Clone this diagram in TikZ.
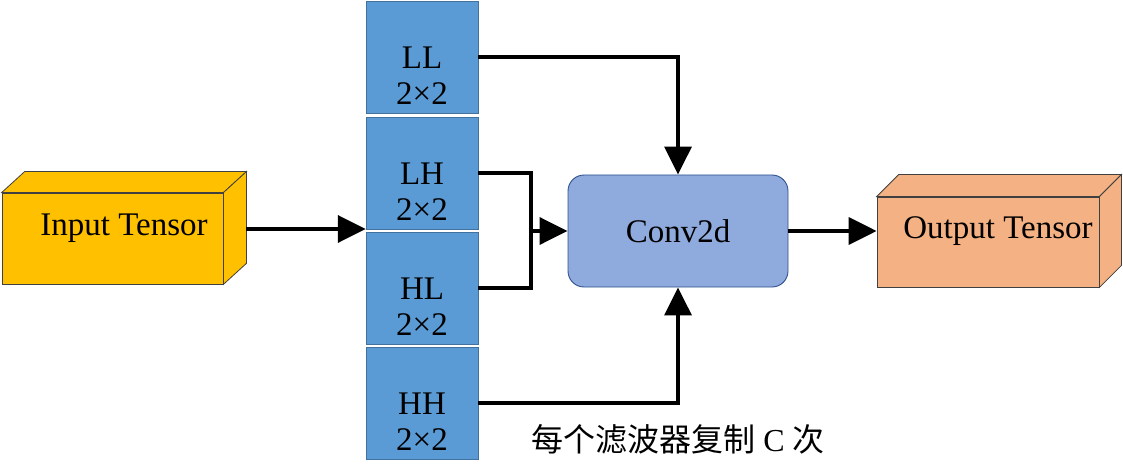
\documentclass[tikz,border=0pt]{standalone}
\usepackage{fontspec}
\setmainfont{Liberation Serif}
\newfontfamily\cjk{Noto Sans CJK SC}
\usepackage{tikz}
\usetikzlibrary{arrows.meta,calc}
\usepackage{xcolor}
\definecolor{inyellow}{HTML}{FFC000}
\definecolor{outorange}{HTML}{F4B183}
\definecolor{filtblue}{HTML}{5B9BD5}
\definecolor{filtedge}{HTML}{41719C}
\definecolor{convblue}{HTML}{8FAADC}
\definecolor{convedge}{HTML}{2F528F}
\begin{document}
\begin{tikzpicture}[x=1pt,y=-1pt,
    txt/.style={font=\fontsize{33}{36}\selectfont,align=center},
    filt/.style={draw=filtedge,fill=filtblue,minimum width=112pt,minimum height=112pt,inner sep=0pt},
    face/.style={draw=black!75,line width=0.8pt},
    wire/.style={line width=3.5pt},
    arr/.style={wire,-{Triangle[length=28pt,width=27pt]}}]
  \useasboundingbox (0,0) rectangle (1123,473);
  % input tensor: front face, then top and side
  \node[face,fill=inyellow,minimum width=221pt,minimum height=91pt,inner sep=0pt] (in) at (112.5,238.5) {};
  \draw[face,fill=inyellow] (in.north west) -- ++(23,-21) -- ($(in.north east)+(23,-21)$) -- (in.north east) -- cycle;
  \draw[face,fill=inyellow] (in.north east) -- ++(23,-21) -- ($(in.south east)+(23,-21)$) -- (in.south east) -- cycle;
  \node[txt] (intxt) at (124,228) {Input Tensor};
  \coordinate (inout) at (246,229);
  % the four filters
  \foreach \n/\y in {LL/57,LH/173,HL/288,HH/403}{
    \node[filt] (\n) at (422,\y) {};
    \node[txt] at (422,\y+19) {\n\\2×2};
  }
  \node[draw=convedge,line width=0.9pt,fill=convblue,rounded corners=16pt,minimum width=220pt,minimum height=112pt] (conv) at (678,231) {};
  \node[txt] (convtxt) at (conv.center) {Conv2d};
  % output tensor
  \node[face,fill=outorange,minimum width=222pt,minimum height=90pt,inner sep=0pt] (out) at (988,242) {};
  \draw[face,fill=outorange] (out.north west) -- ++(22,-22) -- ($(out.north east)+(22,-22)$) -- (out.north east) -- cycle;
  \draw[face,fill=outorange] (out.north east) -- ++(22,-22) -- ($(out.south east)+(22,-22)$) -- (out.south east) -- cycle;
  \node[txt] (outtxt) at (998,231) {Output Tensor};
  % connectors
  \draw[arr] (inout) -- (inout -| LH.west);
  \draw[arr] (LL.east) -| (conv.north);
  \draw[arr] (HH.east) -| (conv.south);
  \coordinate (j) at (531,0);
  \draw[wire] (LH.east) -| (j |- HL.east) -- (HL.east);
  \draw[arr] (j |- conv.west) -- (conv.west);
  \draw[arr] (conv.east) -- (conv.east -| out.west);
  \node[font=\fontsize{32}{36}\selectfont] (note) at (678,439) {{\cjk 每个滤波器复制} C {\cjk 次}};
\end{tikzpicture}
\end{document}
